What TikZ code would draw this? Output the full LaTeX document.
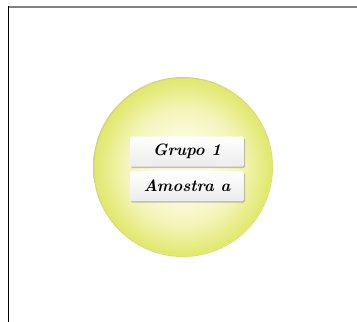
\documentclass[tikz,border=0pt]{standalone}
\usetikzlibrary{shadows}
\definecolor{ballc}{RGB}{252,252,230}
\definecolor{ballm}{RGB}{243,245,185}
\definecolor{balle}{RGB}{226,233,112}
\definecolor{ballr}{RGB}{205,210,130}
\definecolor{framegray}{RGB}{130,130,130}
\definecolor{boxtop}{RGB}{255,255,255}
\definecolor{boxbot}{RGB}{236,236,236}
\pgfdeclareradialshading{ballshade}{\pgfpoint{0bp}{0bp}}{%
  color(0bp)=(ballc); color(7bp)=(ballc); color(16bp)=(ballm);
  color(24bp)=(balle); color(24.6bp)=(balle); color(25bp)=(ballr); color(50bp)=(ballr)}
\tikzset{
  labelbox/.style={draw=none, rounded corners=1.5pt, minimum width=114pt, minimum height=30pt,
    top color=boxtop, bottom color=boxbot,
    drop shadow={shadow xshift=1pt, shadow yshift=-1.5pt, fill=black!40, opacity=0.6},
    font=\fontsize{16.5}{18}\selectfont\itshape\bfseries, inner sep=0pt},
  ball/.style={circle, minimum size=180pt, inner sep=0pt, draw=none, shading=ballshade}
}
\begin{document}
\begin{tikzpicture}[x=1pt,y=-1pt]
\useasboundingbox (0,0) rectangle (357,322);
\fill[white] (0,0) rectangle (357,322);
\draw[framegray, line width=2pt] (8,6.5) -- (357,6.5);
\draw[black, line width=1.2pt] (8.3,6) -- (8.3,322);
\node[ball] (ball) at (183,167) {};
\node[labelbox] (g1) at (187,151.5) {Grupo 1};
\node[labelbox] (g2) at (187,186) {Amostra a};
\end{tikzpicture}
\end{document}
